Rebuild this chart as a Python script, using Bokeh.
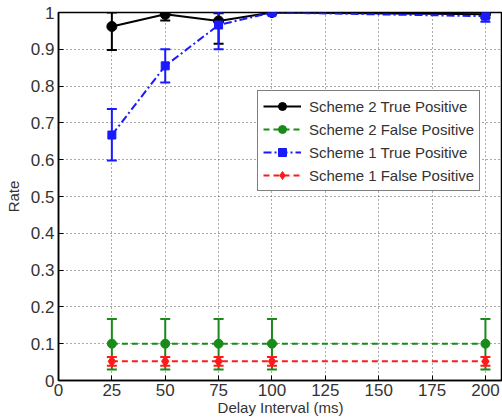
from bokeh.plotting import figure
from bokeh.models import (ColumnDataSource, Whisker, TeeHead, Legend, LegendItem,
                          FixedTicker, Range1d)
from bokeh.embed import file_html
from bokeh.resources import INLINE

delays = [25, 50, 75, 100, 200]

s2_tp = [0.962, 0.995, 0.977, 1.0, 0.995]
s2_tp_lo = [0.898, 0.978, 0.915, 1.0, 0.985]
s2_tp_hi = [1.0, 1.0, 0.998, 1.0, 1.0]

s2_fp = [0.1, 0.1, 0.1, 0.1, 0.1]
s2_fp_lo = [0.03, 0.03, 0.03, 0.03, 0.03]
s2_fp_hi = [0.167, 0.167, 0.167, 0.167, 0.167]

s1_tp = [0.667, 0.855, 0.966, 1.0, 0.99]
s1_tp_lo = [0.598, 0.81, 0.9, 1.0, 0.975]
s1_tp_hi = [0.738, 0.9, 1.0, 1.0, 1.0]

s1_fp = [0.052, 0.052, 0.052, 0.052, 0.052]
s1_fp_lo = [0.04, 0.04, 0.04, 0.04, 0.04]
s1_fp_hi = [0.064, 0.064, 0.064, 0.064, 0.064]

x_ticks = [0, 25, 50, 75, 100, 125, 150, 175, 200]
y_ticks = [0, 0.1, 0.2, 0.3, 0.4, 0.5, 0.6, 0.7, 0.8, 0.9, 1.0]
y_tick_labels = ["0", "0.1", "0.2", "0.3", "0.4", "0.5", "0.6", "0.7", "0.8", "0.9", "1"]

FONT = "Liberation Sans"

p = figure(width=502, height=418, output_backend="svg", toolbar_location=None,
           x_range=Range1d(0, 208), y_range=Range1d(0, 1),
           min_border_left=58, min_border_right=0, min_border_top=12, min_border_bottom=10)

p.outline_line_color = "black"
p.outline_line_width = 1.5
p.background_fill_color = "white"

for ax in (p.xaxis[0], p.yaxis[0]):
    ax.major_tick_in = 5
    ax.major_tick_out = 0
    ax.minor_tick_line_color = None
    ax.axis_line_color = "black"
    ax.axis_line_width = 1.5
    ax.major_label_text_font = FONT
    ax.major_label_text_font_size = "17px"
    ax.major_label_text_color = "#333333"
    ax.axis_label_text_font = FONT
    ax.axis_label_text_font_size = "15px"
    ax.axis_label_text_font_style = "normal"
    ax.axis_label_text_color = "#333333"

p.xaxis.ticker = FixedTicker(ticks=x_ticks)
p.yaxis.ticker = FixedTicker(ticks=y_ticks)
p.yaxis.major_label_overrides = {t: l for t, l in zip(y_ticks, y_tick_labels)}
p.xaxis.axis_label = "Delay Interval (ms)"
p.yaxis.axis_label = "Rate"
p.xaxis.axis_label_standoff = 0
p.yaxis.axis_label_standoff = 6
p.xaxis.major_label_standoff = 3
p.yaxis.major_label_standoff = 4

p.grid.grid_line_color = "#555555"
p.grid.grid_line_dash = "1 3"
p.grid.grid_line_width = 1

series = [
    ("Scheme 2 True Positive", s2_tp, s2_tp_lo, s2_tp_hi, "black", "solid", "circle", 10),
    ("Scheme 2 False Positive", s2_fp, s2_fp_lo, s2_fp_hi, "#1a8a1a", "6 4", "circle", 9),
    ("Scheme 1 True Positive", s1_tp, s1_tp_lo, s1_tp_hi, "#1a1aff", "8 3 2 3", "square", 8),
    ("Scheme 1 False Positive", s1_fp, s1_fp_lo, s1_fp_hi, "#ff1a1a", "6 4", "diamond", 11),
]

items = []
for name, y, lo, hi, color, dash, marker, size in series:
    src = ColumnDataSource(dict(x=delays, y=y, lo=lo, hi=hi))
    w = Whisker(source=src, base="x", lower="lo", upper="hi",
                line_color=color, line_width=2,
                upper_head=TeeHead(size=10, line_color=color, line_width=2),
                lower_head=TeeHead(size=10, line_color=color, line_width=2))
    p.add_layout(w)
    ln = p.line("x", "y", source=src, line_color=color, line_width=2, line_dash=dash)
    sc = p.scatter("x", "y", source=src, marker=marker, size=size,
                   fill_color=color, line_color=color)
    items.append(LegendItem(label=name, renderers=[ln, sc]))

legend = Legend(items=items, location=(199, 189), border_line_color="black",
                border_line_width=1.5, label_text_font=FONT, label_text_font_size="15px",
                label_text_color="#333333", glyph_width=38, spacing=3, padding=5,
                margin=0, label_standoff=8, background_fill_alpha=1)
p.add_layout(legend, "center")

open("out.html", "w").write(file_html(p, INLINE))
